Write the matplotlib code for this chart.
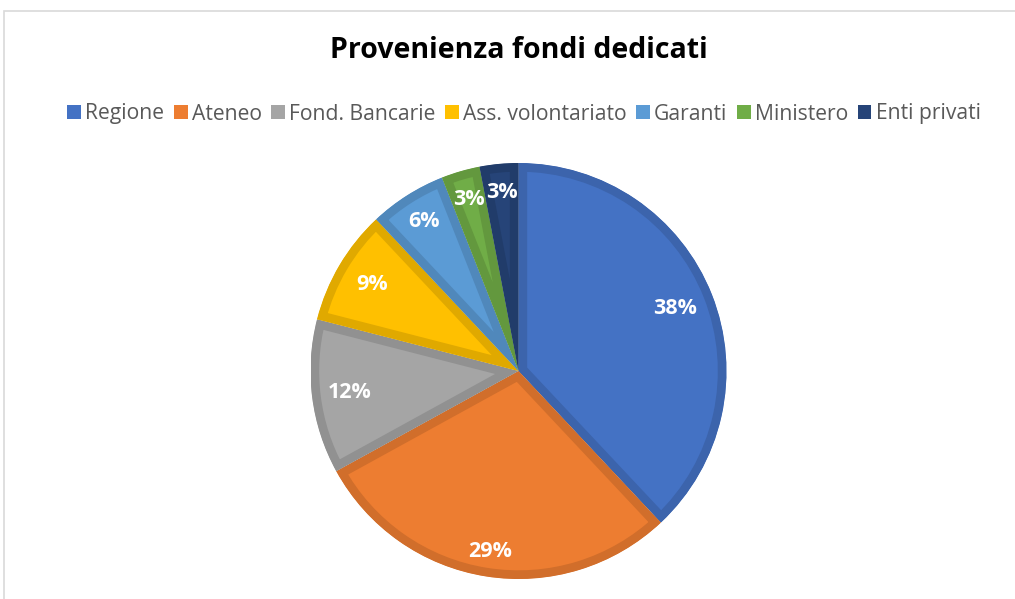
import matplotlib
matplotlib.use("Agg")
import matplotlib.pyplot as plt
from matplotlib.patches import Rectangle, Patch
import matplotlib.colors as mcolors
import numpy as np

categories = ["Regione", "Ateneo", "Fond. Bancarie", "Ass. volontariato", "Garanti", "Ministero", "Enti privati"]
values = [38, 29, 12, 9, 6, 3, 3]
labels = ["38%", "29%", "12%", "9%", "6%", "3%", "3%"]
colors = ["#4472C4", "#ED7D31", "#A5A5A5", "#FFC000", "#5B9BD5", "#70AD47", "#264478"]
label_dist = [0.81, 0.88, 0.82, 0.82, 0.85, 0.86, 0.86]

W, H = 1015, 599
fig = plt.figure(figsize=(W / 100, H / 100), dpi=100)
fig.patch.set_facecolor("white")

# outer chart frame
fig.patches.append(Rectangle((4 / W, -0.01), 1.1, (H - 11) / H + 0.01, transform=fig.transFigure,
                             fill=False, edgecolor="#D9D9D9", linewidth=1.2))

cx, cy, R = 518.5, H - 371, 208
ax = fig.add_axes([(cx - R) / W, (cy - R) / H, 2 * R / W, 2 * R / H])

def darker(c, f=0.88):
    r, g, b = mcolors.to_rgb(c)
    return (r * f, g * f, b * f)

wedges, _ = ax.pie(values, colors=colors, startangle=90, counterclock=False, radius=1.0,
                   wedgeprops=dict(linewidth=0))
ax.set_xlim(-1, 1)
ax.set_ylim(-1, 1)
ax.set_aspect("equal")
ax.axis("off")
for w, c in zip(wedges, colors):
    w.set_edgecolor(darker(c))
    w.set_linewidth(12.5)
    w.set_joinstyle("round")
    w.set_clip_on(True)
    w.set_clip_path(w)

for w, lab, d in zip(wedges, labels, label_dist):
    ang = np.deg2rad((w.theta1 + w.theta2) / 2)
    ax.text(d * np.cos(ang), d * np.sin(ang), lab, ha="center", va="center",
            color="white", fontsize=15.5, fontweight="bold", family="Open Sans")

fig.text(519 / W, 1 - 51 / H, "Provenienza fondi dedicati", ha="center", va="center",
         fontsize=20.5, fontweight="bold", family="Open Sans", color="black")

handles = [Patch(facecolor=c, edgecolor="none") for c in colors]
leg = fig.legend(handles, categories, loc="center", bbox_to_anchor=(524 / W, 1 - 114 / H), ncol=7,
                 frameon=False, handlelength=0.65, handleheight=0.65, handletextpad=0.2,
                 columnspacing=0.45, prop=dict(family="Open Sans", size=15.2))
for t in leg.get_texts():
    t.set_color("#595959")

fig.savefig("out.png", dpi=100)
